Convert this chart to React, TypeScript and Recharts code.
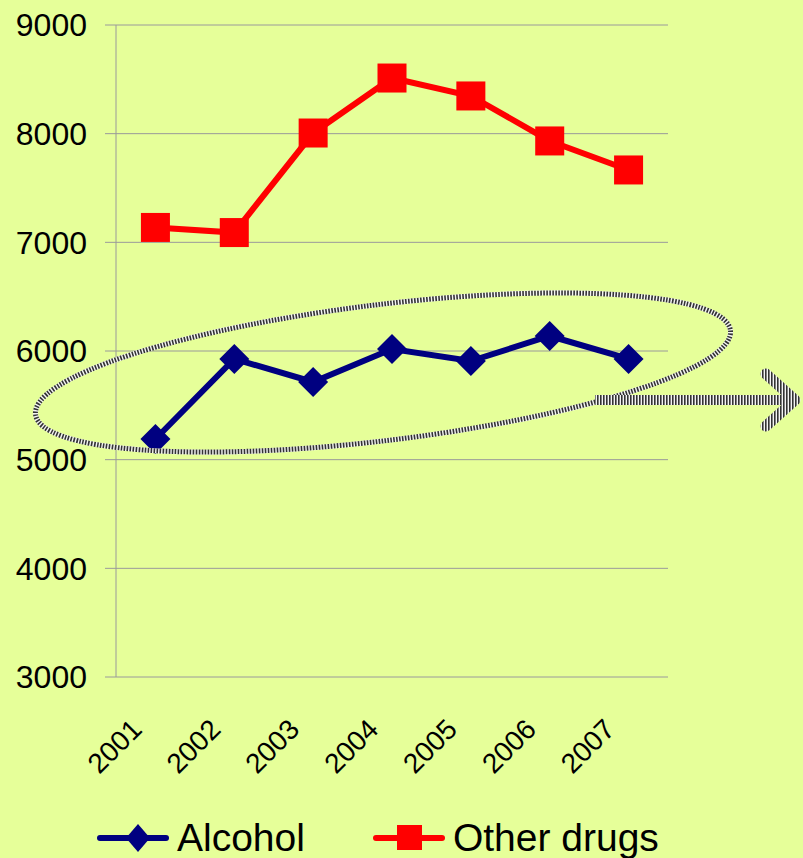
import { CartesianGrid, Legend, Line, LineChart, XAxis, YAxis } from "recharts";

const years = ["2001", "2002", "2003", "2004", "2005", "2006", "2007"];
const alcohol = [5190, 5927, 5715, 6018, 5908, 6138, 5927];
const otherDrugs = [7137, 7090, 8006, 8512, 8347, 7933, 7666];
const yTicks = [3000, 4000, 5000, 6000, 7000, 8000, 9000];
const boundaryTicks = [0, 1, 2, 3, 4, 5, 6, 7];

const data = years.map((year, i) => ({
  year,
  pos: i + 0.5,
  alcohol: alcohol[i],
  other: otherDrugs[i],
}));

const FONT = "'Liberation Sans', Arial, sans-serif";
const BG = "#E6FF99";
const NAVY = "#000080";
const RED = "#FF0000";

function Diamond({ cx, cy }: any) {
  if (cx == null || cy == null) return null;
  const r = 15;
  return (
    <polygon
      points={`${cx},${cy - r} ${cx + r},${cy} ${cx},${cy + r} ${cx - r},${cy}`}
      fill={NAVY}
    />
  );
}

function Square({ cx, cy }: any) {
  if (cx == null || cy == null) return null;
  const r = 14.5;
  return <rect x={cx - r} y={cy - r} width={r * 2} height={r * 2} fill={RED} />;
}

function YearTick({ x, y, payload }: any) {
  const label = years[Math.floor(payload.value)];
  const tx = x - 12;
  const ty = y + 54;
  return (
    <text
      x={tx}
      y={ty}
      transform={`rotate(-45 ${tx} ${ty})`}
      textAnchor="end"
      fontSize={28}
      fontFamily={FONT}
      fill="#000"
    >
      {label}
    </text>
  );
}

function LegendContent() {
  const items = [
    { name: "Alcohol", color: NAVY, shape: "diamond", gap: 68 },
    { name: "Other drugs", color: RED, shape: "square", gap: 0 },
  ];
  return (
    <div style={{ display: "flex", alignItems: "center", fontFamily: FONT }}>
      {items.map((it) => (
        <div
          key={it.name}
          style={{ display: "flex", alignItems: "center", marginRight: it.gap }}
        >
          <svg width={72} height={30}>
            <line
              x1={3}
              y1={15}
              x2={69}
              y2={15}
              stroke={it.color}
              strokeWidth={6}
              strokeLinecap="round"
            />
            {it.shape === "diamond" ? (
              <polygon points="41,1 53,15 41,29 29,15" fill={it.color} />
            ) : (
              <rect x={24} y={2} width={25} height={25} fill={it.color} />
            )}
          </svg>
          <span
            style={{ fontSize: 39, lineHeight: 1, marginLeft: 8, color: "#000" }}
          >
            {it.name}
          </span>
        </div>
      ))}
    </div>
  );
}

function Overlay() {
  return (
    <svg
      width={803}
      height={858}
      style={{ position: "absolute", left: 0, top: 0, pointerEvents: "none" }}
    >
      <defs>
        <pattern
          id="stripes"
          patternUnits="userSpaceOnUse"
          width={3}
          height={3}
        >
          <rect x={0} y={0} width={3} height={3} fill="#f4f4f4" />
          <rect x={0} y={0} width={1.6} height={3} fill="#333" />
        </pattern>
      </defs>
      <g transform="rotate(-6.9 383 372.5)">
        <ellipse
          cx={383}
          cy={372.5}
          rx={350}
          ry={68}
          fill="none"
          stroke="#f4f4f4"
          strokeWidth={5}
        />
        <ellipse
          cx={383}
          cy={372.5}
          rx={350}
          ry={68}
          fill="none"
          stroke="#333"
          strokeWidth={5}
          strokeDasharray="1.6 1.4"
        />
      </g>
      <rect x={595} y={395} width={200} height={10} fill="url(#stripes)" />
      <polyline
        points="766,374 795,400 766,426"
        fill="none"
        stroke="url(#stripes)"
        strokeWidth={11}
        strokeLinecap="round"
        strokeLinejoin="round"
      />
    </svg>
  );
}

export default function App() {
  return (
    <div
      style={{
        position: "absolute",
        left: 0,
        top: 0,
        width: 803,
        height: 858,
        background: BG,
        overflow: "hidden",
      }}
    >
      <LineChart
        width={803}
        height={858}
        data={data}
        margin={{ top: 25, right: 135, left: 0, bottom: 0 }}
      >
        <CartesianGrid horizontal vertical={false} stroke="#9a9a9a" />
        <XAxis
          xAxisId="b"
          dataKey="pos"
          type="number"
          domain={[0, 7]}
          ticks={boundaryTicks}
          tick={false}
          tickSize={11}
          height={0}
          axisLine={{ stroke: "#9a9a9a" }}
          tickLine={{ stroke: "#9a9a9a" }}
        />
        <XAxis
          dataKey="pos"
          type="number"
          domain={[0, 7]}
          ticks={data.map((d) => d.pos)}
          height={181}
          axisLine={false}
          tickLine={false}
          tickSize={0}
          tickMargin={0}
          interval={0}
          tick={<YearTick />}
        />
        <YAxis
          domain={[3000, 9000]}
          ticks={yTicks}
          width={116}
          tickSize={11}
          tickMargin={18}
          axisLine={{ stroke: "#9a9a9a" }}
          tickLine={{ stroke: "#9a9a9a" }}
          tick={{ fontSize: 32, fill: "#000", fontFamily: FONT }}
          interval={0}
        />
        <Legend
          layout="horizontal"
          verticalAlign="middle"
          align="center"
          content={<LegendContent />}
          wrapperStyle={{ top: 818, left: 97, width: "auto" }}
        />
        <Line
          dataKey="alcohol"
          name="Alcohol"
          stroke={NAVY}
          strokeWidth={6}
          dot={<Diamond />}
          activeDot={false}
          isAnimationActive={false}
        />
        <Line
          dataKey="other"
          name="Other drugs"
          stroke={RED}
          strokeWidth={6}
          dot={<Square />}
          activeDot={false}
          isAnimationActive={false}
        />
      </LineChart>
      <Overlay />
    </div>
  );
}
